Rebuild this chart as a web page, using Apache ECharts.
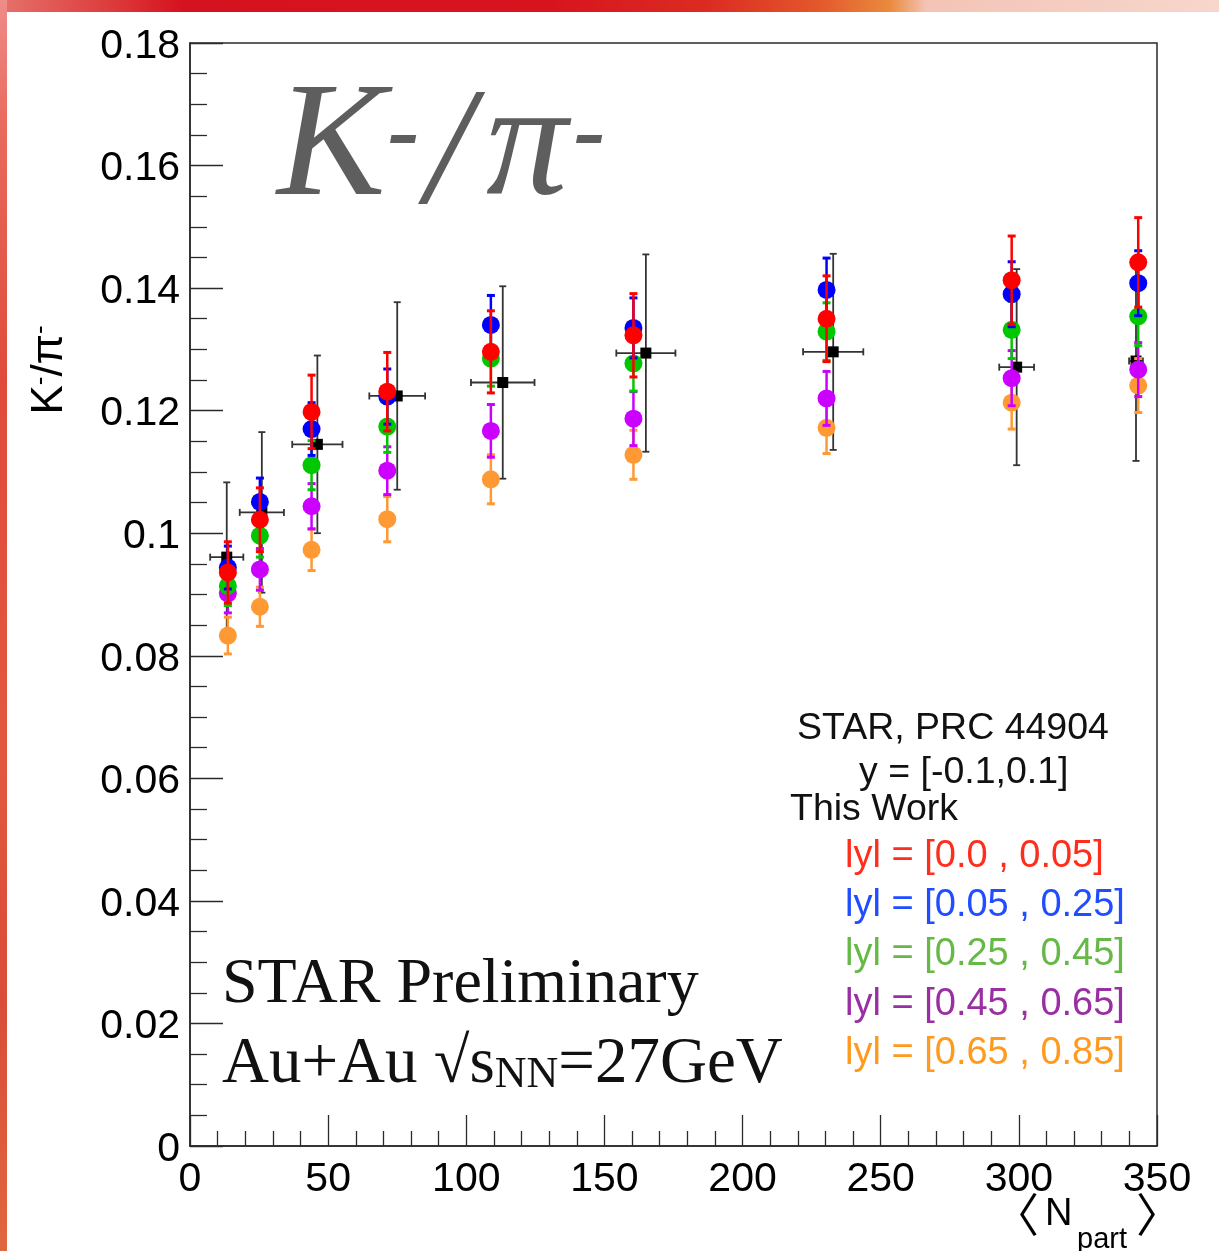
<!DOCTYPE html>
<html>
<head>
<meta charset="utf-8">
<title>K-/pi- ratio vs Npart, Au+Au 27 GeV</title>
<script src="https://cdn.jsdelivr.net/npm/echarts@6/dist/echarts.min.js"></script>
<style>
  html, body { margin: 0; padding: 0; background: #fff; }
  #wrap { position: relative; width: 1219px; height: 1251px; overflow: hidden; background: #fff; }
  #edgeTop { position: absolute; left: 0; top: 0; width: 1219px; height: 12px;
    background: linear-gradient(90deg, #e6726c 0%, #dd3c3c 9%, #d5121f 15%, #d7141e 45%, #dc2b22 58%, #e3572b 67%, #ea8a3e 73%, #f3c4b6 76%, #f7d6cc 100%); }
  #edgeLeft { position: absolute; left: 0; top: 0; width: 7px; height: 1251px;
    background: linear-gradient(180deg, #ef8c88 0%, #e86b5d 10%, #df4b3b 30%, #e2583f 60%, #d94c38 80%, #e0673f 100%); }
  #chart { position: absolute; left: 0; top: 0; width: 1219px; height: 1251px; }
</style>
</head>
<body>
<div id="wrap">
  <div id="edgeTop"></div>
  <div id="edgeLeft"></div>
  <div id="chart"></div>
</div>
<script>
// <Npart> of the centrality classes (this work)
const nPart = [13.7, 25.3, 44.0, 71.4, 108.9, 160.5, 230.4, 297.4, 343.2];

// K-/pi- ratio in rapidity bins, with uncertainties
const ratioY000 = [0.0936, 0.1022, 0.1198, 0.1231, 0.1296, 0.1323, 0.1350, 0.1413, 0.1442];
const errY000   = [0.0050, 0.0052, 0.0060, 0.0064, 0.0067, 0.0068, 0.0070, 0.0072, 0.0073];
const ratioY005 = [0.0944, 0.1051, 0.1170, 0.1223, 0.1340, 0.1335, 0.1397, 0.1390, 0.1408];
const errY005   = [0.0035, 0.0039, 0.0043, 0.0045, 0.0048, 0.0049, 0.0052, 0.0053, 0.0053];
const ratioY025 = [0.0914, 0.0996, 0.1111, 0.1174, 0.1285, 0.1277, 0.1329, 0.1332, 0.1354];
const errY025   = [0.0032, 0.0035, 0.0040, 0.0042, 0.0045, 0.0045, 0.0047, 0.0047, 0.0048];
const ratioY045 = [0.0902, 0.0941, 0.1044, 0.1102, 0.1167, 0.1187, 0.1220, 0.1253, 0.1267];
const errY045   = [0.0032, 0.0034, 0.0037, 0.0039, 0.0043, 0.0044, 0.0044, 0.0045, 0.0044];
const ratioY065 = [0.0833, 0.0880, 0.0973, 0.1023, 0.1088, 0.1128, 0.1172, 0.1213, 0.1241];
const errY065   = [0.0030, 0.0032, 0.0034, 0.0037, 0.0040, 0.0040, 0.0042, 0.0043, 0.0044];

// Published STAR reference points, |y| < 0.1
const refNpart    = [13.3, 26.0, 46.1, 75.0, 113.2, 165.0, 232.8, 299.2, 342.4];
const refNpartErr = [6.0, 8.0, 9.1, 10.1, 11.5, 10.7, 10.9, 6.3, 2.5];
const refRatio    = [0.0961, 0.1034, 0.1145, 0.1224, 0.1246, 0.1294, 0.1296, 0.1271, 0.1281];
const refRatioErr = [0.0122, 0.0131, 0.0145, 0.0153, 0.0157, 0.0161, 0.0160, 0.0160, 0.0163];

// Legend entries
const refLabels = ['STAR, PRC 44904', 'y = [-0.1,0.1]', 'This Work'];
const binLabels = ['lyl = [0.0 , 0.05]', 'lyl = [0.05 , 0.25]', 'lyl = [0.25 , 0.45]', 'lyl = [0.45 , 0.65]', 'lyl = [0.65 , 0.85]'];

// Axis tick labels
const xTickLabels = ['0', '50', '100', '150', '200', '250', '300', '350'];
const yTickLabels = ['0', '0.02', '0.04', '0.06', '0.08', '0.1', '0.12', '0.14', '0.16', '0.18'];

const markerColors = ['#ff0000', '#0000ff', '#00c800', '#cc00ff', '#ff9933'];
const textColors   = ['#ff2e1c', '#1f4dff', '#66b847', '#992fa3', '#ff9a1e'];

const chart = echarts.init(document.getElementById('chart'), null, { renderer: 'canvas' });

function withErrors(color) {
  return function (params, api) {
    const x = api.value(0), y = api.value(1), e = api.value(2);
    const c = api.coord([x, y]);
    const hi = api.coord([x, y + e])[1];
    const lo = api.coord([x, y - e])[1];
    const cap = 4;
    return {
      type: 'group',
      children: [
        { type: 'line', shape: { x1: c[0], y1: hi, x2: c[0], y2: lo }, style: { stroke: color, lineWidth: 2.5 } },
        { type: 'line', shape: { x1: c[0] - cap, y1: hi, x2: c[0] + cap, y2: hi }, style: { stroke: color, lineWidth: 3 } },
        { type: 'line', shape: { x1: c[0] - cap, y1: lo, x2: c[0] + cap, y2: lo }, style: { stroke: color, lineWidth: 3 } },
        { type: 'circle', shape: { cx: c[0], cy: c[1], r: 9 }, style: { fill: color } }
      ]
    };
  };
}

function refWithErrors(params, api) {
  const x = api.value(0), y = api.value(1), ex = api.value(2), ey = api.value(3);
  const c = api.coord([x, y]);
  const hi = api.coord([x, y + ey])[1];
  const lo = api.coord([x, y - ey])[1];
  const le = api.coord([x - ex, y])[0];
  const ri = api.coord([x + ex, y])[0];
  const s = { stroke: '#333', lineWidth: 1.8 };
  const cap = 3.5;
  return {
    type: 'group',
    children: [
      { type: 'line', shape: { x1: c[0], y1: hi, x2: c[0], y2: lo }, style: s },
      { type: 'line', shape: { x1: c[0] - cap, y1: hi, x2: c[0] + cap, y2: hi }, style: s },
      { type: 'line', shape: { x1: c[0] - cap, y1: lo, x2: c[0] + cap, y2: lo }, style: s },
      { type: 'line', shape: { x1: le, y1: c[1], x2: ri, y2: c[1] }, style: s },
      { type: 'line', shape: { x1: le, y1: c[1] - cap, x2: le, y2: c[1] + cap }, style: s },
      { type: 'line', shape: { x1: ri, y1: c[1] - cap, x2: ri, y2: c[1] + cap }, style: s },
      { type: 'rect', shape: { x: c[0] - 5.5, y: c[1] - 5.5, width: 11, height: 11 }, style: { fill: '#000' } }
    ]
  };
}

const bins = [
  [ratioY000, errY000],
  [ratioY005, errY005],
  [ratioY025, errY025],
  [ratioY045, errY045],
  [ratioY065, errY065]
];

const series = [{
  type: 'custom',
  name: refLabels[0],
  renderItem: refWithErrors,
  encode: { x: 0, y: 1 },
  z: 2,
  data: refNpart.map((x, i) => [x, refRatio[i], refNpartErr[i], refRatioErr[i]])
}];
// drawn back to front: outermost rapidity bin first, |y| < 0.05 on top
for (let b = bins.length - 1; b >= 0; b--) {
  series.push({
    type: 'custom',
    name: binLabels[b],
    renderItem: withErrors(markerColors[b]),
    encode: { x: 0, y: 1 },
    z: 3 + (bins.length - b),
    data: nPart.map((x, i) => [x, bins[b][0][i], bins[b][1][i]])
  });
}

const axisColor = '#2a2a2a';
const sansFont = '"Liberation Sans", Arial, Helvetica, sans-serif';
const serifFont = '"Liberation Serif", "Times New Roman", serif';
const bracketFont = '"Noto Sans CJK JP", "DejaVu Sans", sans-serif';

const graphics = [];
// Big ratio title
const titleColor = '#5e5e5e';
graphics.push(
  { type: 'text', x: 277, y: 151, z: 50, style: { text: 'K', font: 'italic 163px ' + serifFont, fill: titleColor, align: 'left', verticalAlign: 'middle' } },
  { type: 'text', x: 388, y: 136, z: 50, style: { text: '-', font: 'italic bold 95px ' + serifFont, fill: titleColor, align: 'left', verticalAlign: 'middle' } },
  { type: 'text', x: 449, y: 158, z: 50, style: { text: '/', font: 'italic 168px ' + serifFont, fill: titleColor, align: 'center', verticalAlign: 'middle' } },
  { type: 'text', x: 486, y: 150, z: 50, style: { text: 'π', font: 'italic 163px ' + serifFont, fill: titleColor, align: 'left', verticalAlign: 'middle' } },
  { type: 'text', x: 574, y: 136, z: 50, style: { text: '-', font: 'italic bold 95px ' + serifFont, fill: titleColor, align: 'left', verticalAlign: 'middle' } }
);
// Collision system text
graphics.push(
  { type: 'text', x: 222, y: 985, z: 50, style: { text: 'STAR Preliminary', font: '64px ' + serifFont, fill: '#111', align: 'left', verticalAlign: 'middle' } },
  { type: 'text', x: 222, y: 1065, z: 50, style: {
      text: '{a|Au+Au √s}{b|NN}{a|=27GeV}', align: 'left', verticalAlign: 'middle', fill: '#111',
      rich: {
        a: { fontFamily: serifFont, fontSize: 65, lineHeight: 64, fill: '#111' },
        b: { fontFamily: serifFont, fontSize: 44, lineHeight: 40, verticalAlign: 'bottom', fill: '#111' }
      } } }
);
// Legend block
const refY = [729, 773, 810];
const refX = [797, 859, 790];
refLabels.forEach((t, i) => graphics.push({
  type: 'text', x: refX[i], y: refY[i], z: 50,
  style: { text: t, font: '37.5px ' + sansFont, fill: '#111', align: 'left', verticalAlign: 'middle' }
}));
const binY = [857, 906, 955, 1005, 1054];
binLabels.forEach((t, i) => graphics.push({
  type: 'text', x: 845, y: binY[i], z: 50,
  style: { text: t, font: '38px ' + sansFont, fill: textColors[i], align: 'left', verticalAlign: 'middle' }
}));
// Y axis title, rotated
graphics.push({
  type: 'text', x: 50, y: 370, rotation: Math.PI / 2, z: 50,
  style: {
    text: '{a|K}{s|-}{a|/π}{s|-}', align: 'center', verticalAlign: 'middle',
    rich: {
      a: { fontFamily: sansFont, fontSize: 44, lineHeight: 44, fill: '#000' },
      s: { fontFamily: sansFont, fontSize: 26, lineHeight: 26, verticalAlign: 'top', fill: '#000' }
    }
  }
});
// X axis title
graphics.push(
  { type: 'text', x: 993, y: 1214, z: 50, style: { text: '〈', font: '46px ' + bracketFont, fill: '#000', align: 'left', verticalAlign: 'middle' } },
  { type: 'text', x: 1045, y: 1215, z: 50, style: { text: 'N', font: '38px ' + sansFont, fill: '#000', align: 'left', verticalAlign: 'middle' } },
  { type: 'text', x: 1077, y: 1240, z: 50, style: { text: 'part', font: '29px ' + sansFont, fill: '#000', align: 'left', verticalAlign: 'middle' } },
  { type: 'text', x: 1136, y: 1214, z: 50, style: { text: '〉', font: '46px ' + bracketFont, fill: '#000', align: 'left', verticalAlign: 'middle' } }
);

const option = {
  animation: false,
  backgroundColor: 'transparent',
  grid: {
    left: 190, top: 43, right: 62, bottom: 105,
    containLabel: false, outerBoundsMode: 'none',
    show: true, borderColor: axisColor, borderWidth: 1.5, backgroundColor: 'transparent'
  },
  xAxis: {
    type: 'value', min: 0, max: 350, interval: 50,
    axisLine: { show: true, onZero: false, lineStyle: { color: axisColor, width: 1.5 } },
    axisTick: { show: true, inside: true, length: 31, lineStyle: { color: axisColor, width: 1.3 } },
    minorTick: { show: true, splitNumber: 5, length: 15, lineStyle: { color: axisColor, width: 1.3 } },
    splitLine: { show: false },
    axisLabel: {
      show: true, margin: 13, fontSize: 41, fontFamily: sansFont, color: '#000',
      showMinLabel: true, showMaxLabel: true,
      formatter: v => xTickLabels[Math.round(v / 50)]
    }
  },
  yAxis: {
    type: 'value', min: 0, max: 0.18, interval: 0.02,
    axisLine: { show: true, onZero: false, lineStyle: { color: axisColor, width: 1.5 } },
    axisTick: { show: true, inside: true, length: 33, lineStyle: { color: axisColor, width: 1.3 } },
    minorTick: { show: true, splitNumber: 4, length: 17, lineStyle: { color: axisColor, width: 1.3 } },
    splitLine: { show: false },
    axisLabel: {
      show: true, margin: 10, color: '#000',
      showMinLabel: true, showMaxLabel: true,
      formatter: v => '{t|' + yTickLabels[Math.round(v / 0.02)] + '}',
      rich: { t: { fontSize: 41, fontFamily: sansFont, color: '#000', padding: [7, 0, 0, 0] } }
    }
  },
  graphic: graphics,
  series: series
};

chart.setOption(option);
</script>
</body>
</html>
